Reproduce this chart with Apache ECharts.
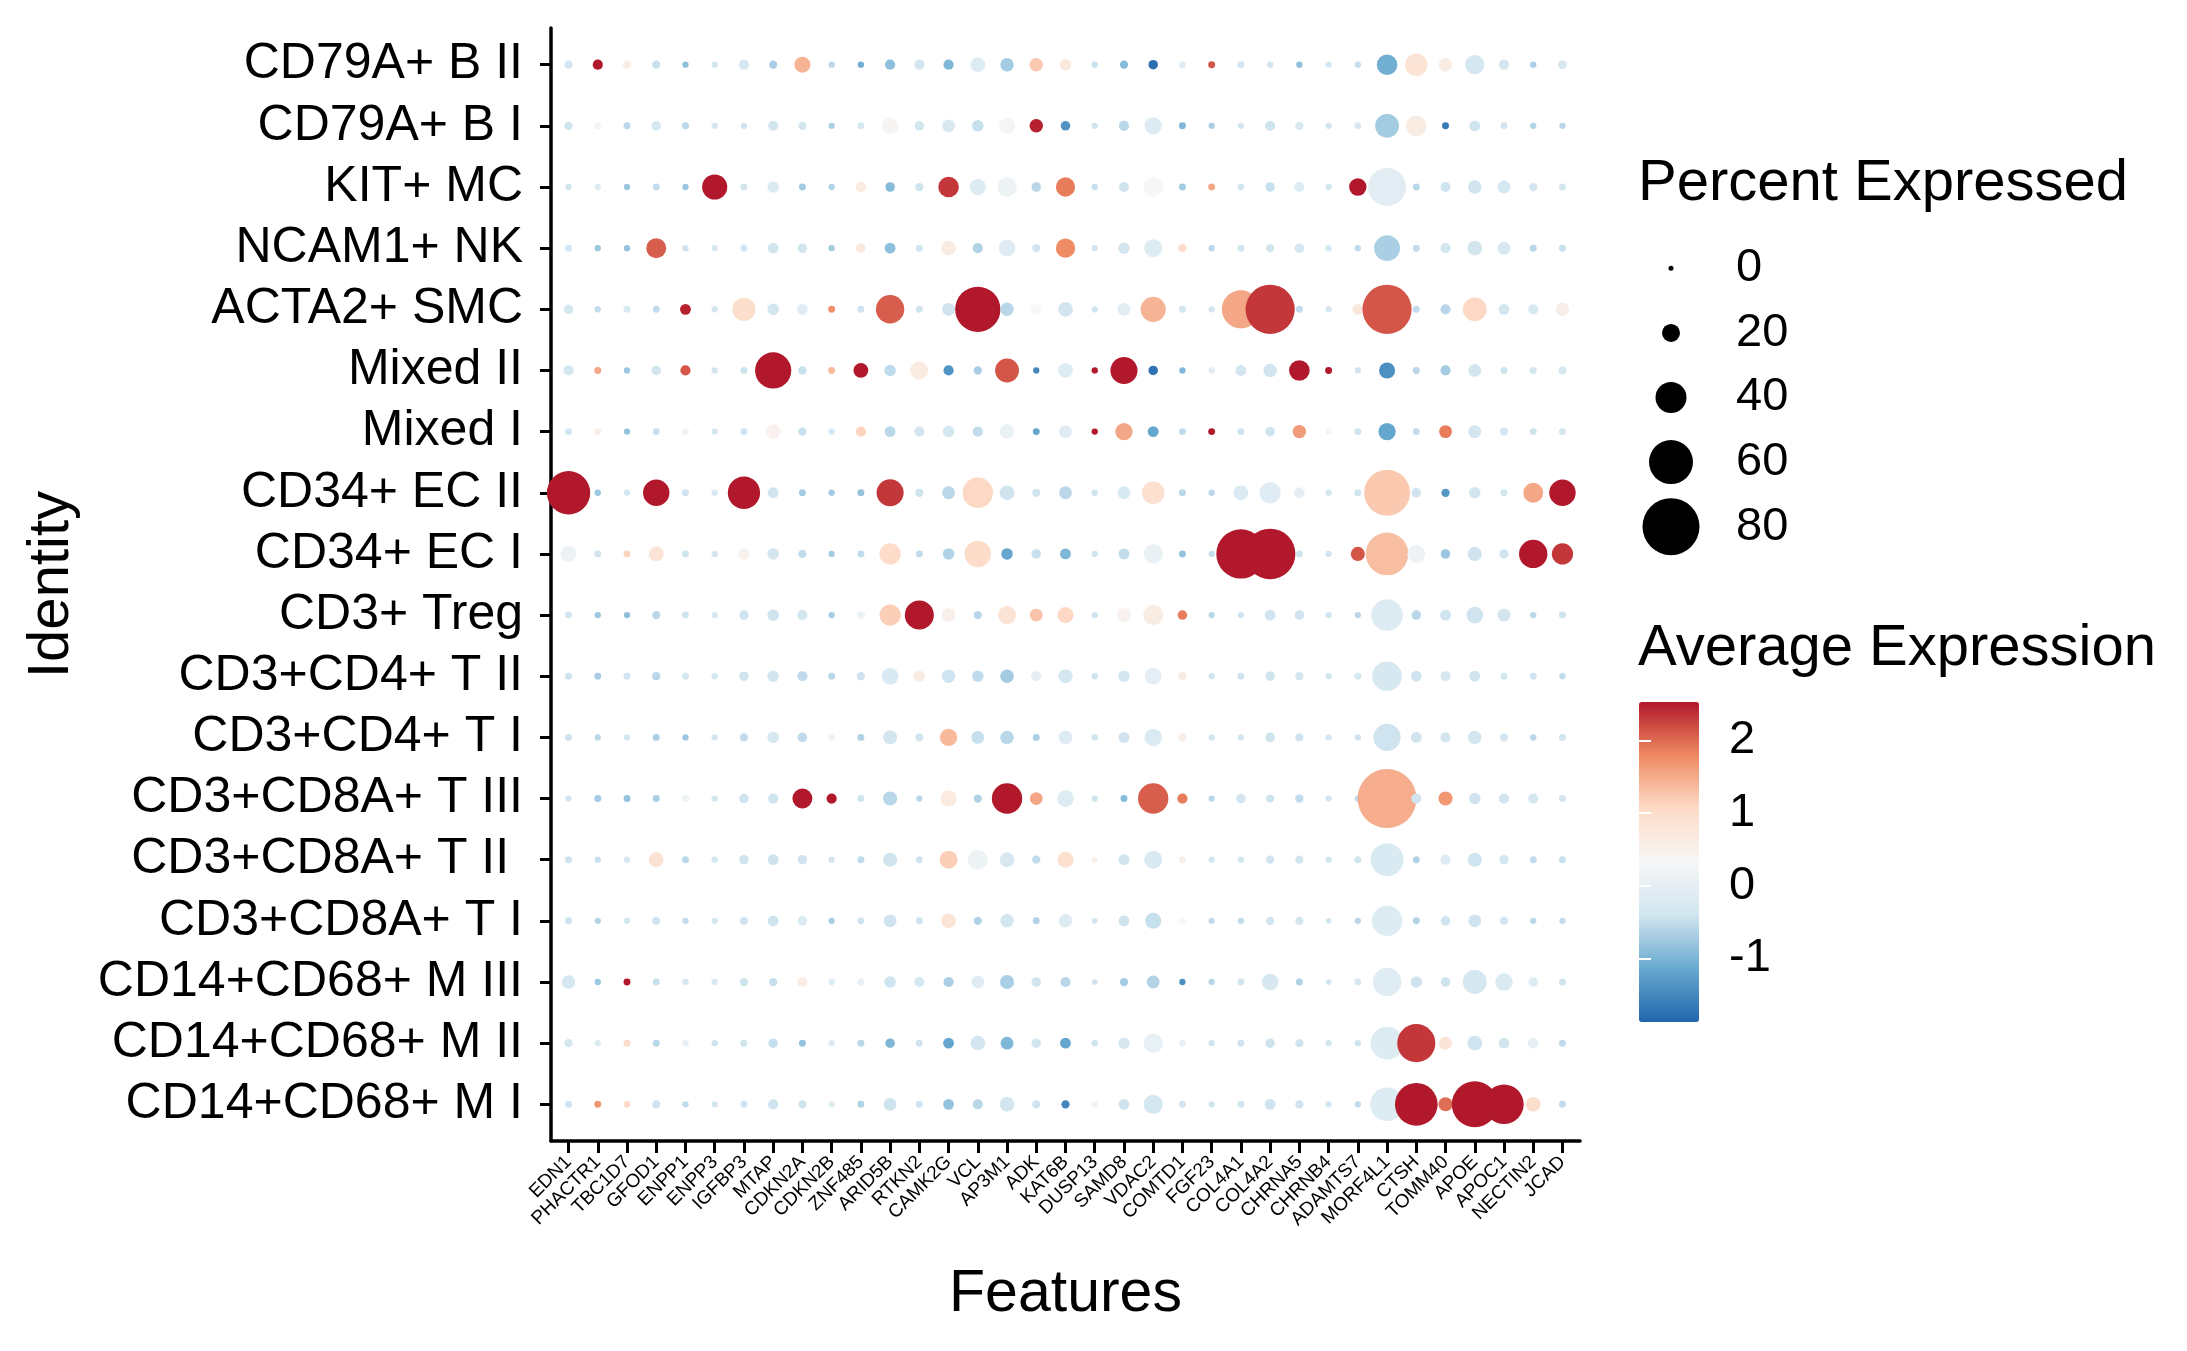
<!DOCTYPE html>
<html><head><meta charset="utf-8">
<script src="https://cdn.jsdelivr.net/npm/echarts@6/dist/echarts.min.js"></script>
<style>html,body{margin:0;padding:0;background:#fff}#c{width:2187px;height:1351px}</style>
</head><body><div id="c"></div>
<script>
const features = ['EDN1','PHACTR1','TBC1D7','GFOD1','ENPP1','ENPP3','IGFBP3','MTAP','CDKN2A','CDKN2B','ZNF485','ARID5B','RTKN2','CAMK2G','VCL','AP3M1','ADK','KAT6B','DUSP13','SAMD8','VDAC2','COMTD1','FGF23','COL4A1','COL4A2','CHRNA5','CHRNB4','ADAMTS7','MORF4L1','CTSH','TOMM40','APOE','APOC1','NECTIN2','JCAD'];
const identities = ['CD79A+ B II','CD79A+ B I','KIT+ MC','NCAM1+ NK','ACTA2+ SMC','Mixed II','Mixed I','CD34+ EC II','CD34+ EC I','CD3+ Treg','CD3+CD4+ T II','CD3+CD4+ T I','CD3+CD8A+ T III','CD3+CD8A+ T II ','CD3+CD8A+ T I','CD14+CD68+ M III','CD14+CD68+ M II','CD14+CD68+ M I'];
// percent expressed, one row per identity (top to bottom), one column per feature
const pct = [
 [5,8,5,5,2,2,8,5,17,2,2,8, 8,8,15,13,13,10,2,5,7,3,3,3, 2,2,2,2,24,27,13,22,8,2,6],
 [5,3,3,7,3,2,2,8,5,2,3,18, 7,12,10,17,13,7,2,8,19,3,2,2, 8,5,2,3,29,24,3,9,3,2,2],
 [2,2,2,3,2,31,3,10,3,2,8,7, 5,24,17,22,7,22,2,8,23,3,3,2, 7,8,2,19,51,3,8,13,12,5,3],
 [3,2,2,23,2,2,3,9,7,2,7,9, 3,15,8,18,5,22,2,10,20,5,2,3, 5,7,2,2,32,3,8,15,12,3,3],
 [7,2,3,3,9,2,28,10,9,3,3,36, 3,12,62,13,9,15,2,12,31,3,2,51, 68,3,2,9,68,3,8,29,9,8,13],
 [8,3,2,7,8,2,3,48,5,3,15,10, 20,8,5,29,2,15,2,34,7,2,2,9, 13,24,3,2,17,3,8,12,3,3,5],
 [3,3,2,3,3,2,3,15,5,2,8,9, 8,10,8,15,3,12,2,19,9,3,3,3, 7,13,2,3,19,3,12,12,5,3,3],
 [59,2,2,33,3,2,42,9,3,2,3,34, 5,12,39,15,5,12,2,12,27,3,2,15, 25,9,2,3,63,7,5,10,3,23,33],
 [17,3,3,15,3,2,10,10,5,2,3,25, 3,10,33,10,7,9,2,9,22,3,2,68, 70,3,2,14,58,20,7,14,7,36,25],
 [3,2,2,5,3,2,7,10,8,2,5,25, 37,14,5,20,12,17,2,14,23,7,2,2, 9,7,2,2,41,7,9,18,12,2,3],
 [3,3,3,5,3,2,7,10,8,3,5,18, 10,13,10,13,8,14,2,10,18,5,2,3, 7,5,2,3,38,9,8,9,3,3,2],
 [3,2,2,3,2,2,5,10,7,2,3,14, 5,19,12,13,3,13,2,9,19,5,2,2, 7,5,2,2,34,9,8,13,5,2,3],
 [2,3,3,3,3,2,7,8,23,8,3,14, 2,17,5,39,12,18,2,3,39,8,2,7, 5,5,2,2,83,8,14,10,8,8,3],
 [3,2,2,15,3,2,7,9,7,2,3,14, 3,20,23,15,5,17,1,9,20,3,2,2, 5,5,2,3,43,3,8,14,7,3,3],
 [3,2,2,5,2,2,5,9,7,2,3,12, 3,15,5,13,3,13,1,9,17,3,2,2, 5,5,1,2,39,3,7,12,5,2,2],
 [13,2,3,3,2,2,5,5,8,2,3,10, 8,8,12,14,7,8,1,5,12,2,2,3, 18,3,1,3,36,10,7,29,19,7,3],
 [5,2,3,3,2,2,3,7,3,2,3,7, 3,9,15,12,7,9,2,10,22,3,2,3, 7,5,2,2,43,51,12,15,9,9,3],
 [3,3,3,5,2,2,3,8,5,2,3,12, 3,9,8,15,5,5,2,9,22,3,2,3, 9,5,2,2,44,58,14,63,53,15,3]
];
// average (scaled) expression, same layout
const avg = [
 [-0.4,2.5,0.6,-0.5,-0.9,-0.4,-0.35,-0.7,1.4,-0.6,-1.1,-0.9, -0.4,-1.0,-0.2,-0.75,1.2,0.7,-0.5,-0.95,-1.8,-0.1,2.1,-0.4, -0.4,-0.9,-0.35,-0.5,-1.1,0.8,0.6,-0.35,-0.4,-0.7,-0.3],
 [-0.45,0.2,-0.6,-0.35,-0.6,-0.4,-0.45,-0.4,-0.4,-0.7,-0.35,0.35, -0.4,-0.3,-0.5,0.35,2.45,-1.4,-0.45,-0.6,-0.2,-1.0,-0.7,-0.4, -0.45,-0.3,-0.4,-0.3,-0.75,0.6,-1.7,-0.45,-0.4,-0.65,-0.6],
 [-0.45,-0.2,-0.8,-0.55,-0.8,2.5,-0.4,-0.25,-0.75,-0.65,0.65,-0.95, -0.45,2.3,-0.2,0.1,-0.6,1.85,-0.5,-0.45,0.3,-0.75,1.5,-0.45, -0.5,-0.2,-0.4,2.5,-0.1,-0.6,-0.45,-0.45,-0.35,-0.4,-0.4],
 [-0.4,-0.8,-0.85,2.05,-0.45,-0.35,-0.4,-0.4,-0.4,-0.75,0.7,-0.9, -0.4,0.6,-0.65,-0.15,-0.4,1.75,-0.4,-0.4,-0.2,1.0,-0.6,-0.4, -0.4,-0.35,-0.35,-0.55,-0.7,-0.55,-0.4,-0.4,-0.35,-0.6,-0.5],
 [-0.35,-0.55,-0.25,-0.55,2.45,-0.4,0.95,-0.4,-0.15,1.7,-0.45,2.05, -0.45,-0.45,2.5,-0.6,0.3,-0.4,-0.45,-0.1,1.4,-0.4,-0.4,1.5, 2.3,-0.55,-0.4,0.7,2.1,-0.55,-0.6,1.05,-0.4,-0.3,0.55],
 [-0.35,1.5,-0.8,-0.4,2.1,-0.4,-0.45,2.5,-0.5,1.35,2.5,-0.55, 0.65,-1.4,-0.7,2.1,-1.55,-0.2,2.5,2.5,-1.75,-1.0,-0.1,-0.4, -0.4,2.5,2.5,-0.45,-1.45,-0.6,-0.75,-0.4,-0.45,-0.4,-0.3],
 [-0.4,0.5,-0.85,-0.5,0.15,-0.4,-0.45,0.45,-0.5,-0.35,1.1,-0.6, -0.4,-0.35,-0.55,0.05,-1.2,-0.15,2.5,1.5,-1.2,-0.55,2.5,-0.45, -0.45,1.6,0.4,-0.45,-1.2,-0.55,1.85,-0.4,-0.4,-0.45,-0.4],
 [2.5,-0.8,-0.35,2.5,-0.45,-0.3,2.5,-0.45,-0.75,-0.75,-0.85,2.3, -0.45,-0.6,1.05,-0.45,-0.45,-0.6,-0.45,-0.25,0.9,-0.6,-0.6,-0.25, -0.15,-0.05,-0.4,-0.45,1.2,-0.45,-1.35,-0.4,-0.4,1.5,2.5],
 [0.1,-0.45,1.1,0.8,-0.45,-0.4,0.45,-0.4,-0.55,-0.75,-0.55,1.0, -0.55,-0.65,1.0,-1.2,-0.5,-1.0,-0.45,-0.55,0.05,-0.85,-0.5,2.5, 2.5,-0.45,-0.4,2.1,1.3,0.1,-0.8,-0.45,-0.4,2.5,2.3],
 [-0.4,-0.8,-0.9,-0.6,-0.45,-0.35,-0.45,-0.45,-0.4,-0.75,0.1,1.15, 2.5,0.5,-0.6,0.8,1.25,1.05,-0.45,0.45,0.6,1.85,-0.6,-0.45, -0.45,-0.45,-0.4,-0.6,-0.2,-0.6,-0.45,-0.45,-0.4,-0.6,-0.45],
 [-0.45,-0.7,-0.45,-0.6,-0.35,-0.4,-0.45,-0.4,-0.55,-0.6,-0.45,-0.25, 0.6,-0.45,-0.55,-0.75,-0.05,-0.35,-0.45,-0.4,-0.05,0.6,-0.4,-0.45, -0.45,-0.4,-0.4,-0.35,-0.3,-0.45,-0.3,-0.45,-0.4,-0.45,-0.55],
 [-0.45,-0.6,-0.4,-0.7,-0.8,-0.4,-0.55,-0.3,-0.55,0.1,-0.65,-0.4, -0.4,1.35,-0.5,-0.6,-0.7,-0.2,-0.45,-0.45,-0.25,0.55,-0.4,-0.4, -0.45,-0.45,-0.35,-0.45,-0.45,-0.45,-0.4,-0.4,-0.4,-0.6,-0.45],
 [-0.4,-0.75,-0.85,-0.7,0.1,-0.4,-0.45,-0.45,2.5,2.5,-0.45,-0.6, -0.6,0.65,-0.65,2.5,1.5,-0.2,-0.45,-0.95,2.05,1.85,-0.6,-0.4, -0.45,-0.55,-0.4,-0.55,1.45,-0.45,1.65,-0.45,-0.4,-0.35,-0.4],
 [-0.45,-0.5,-0.3,0.85,-0.6,-0.4,-0.45,-0.45,-0.45,-0.4,-0.55,-0.45, -0.45,1.15,0.1,-0.3,-0.55,0.9,0.5,-0.45,-0.25,0.5,-0.4,-0.4, -0.45,-0.4,-0.4,-0.45,-0.25,-0.65,-0.2,-0.45,-0.4,-0.55,-0.5],
 [-0.45,-0.65,-0.4,-0.45,-0.55,-0.4,-0.45,-0.45,-0.25,-0.7,-0.45,-0.45, -0.45,0.8,-0.65,-0.4,-0.65,-0.2,-0.4,-0.45,-0.5,0.3,-0.55,-0.55, -0.45,-0.4,-0.4,-0.6,-0.2,-0.65,-0.45,-0.45,-0.4,-0.6,-0.55],
 [-0.35,-0.8,2.5,-0.5,-0.35,-0.3,-0.45,-0.5,0.6,-0.2,0.0,-0.45, -0.35,-0.7,-0.15,-0.7,-0.4,-0.6,-0.45,-0.75,-0.65,-1.45,-0.6,-0.4, -0.3,-0.65,-0.4,-0.3,-0.15,-0.45,-0.45,-0.35,-0.25,-0.2,-0.45],
 [-0.4,-0.2,1.0,-0.6,0.0,-0.45,-0.45,-0.5,-0.85,-0.2,-0.6,-1.0, -0.45,-1.2,-0.4,-1.0,-0.4,-1.2,-0.45,-0.3,0.0,0.05,-0.45,-0.45, -0.45,-0.45,-0.4,-0.45,-0.2,2.3,0.8,-0.45,-0.4,0.0,-0.55],
 [-0.45,1.65,1.0,-0.45,-0.55,-0.4,-0.45,-0.45,-0.45,-0.2,-0.65,-0.45, -0.45,-0.85,-0.6,-0.4,-0.45,-1.55,0.45,-0.45,-0.35,-0.4,-0.45,-0.4, -0.45,-0.45,-0.4,-0.55,-0.2,2.5,1.95,2.5,2.5,0.95,-0.55]
];
const sizeBreaks = [0, 20, 40, 60, 80];
const colorTicks = [-1, 0, 1, 2];
const colorMin = -1.9, colorMax = 2.5;
const palette = ['#2166AC','#67A9CF','#D1E5F0','#F7F7F7','#FDDBC7','#EF8A62','#B2182B'];

const FONT = "'Liberation Sans', Arial, Helvetica, sans-serif";
const sz = p => 5 + 0.65 * p;
const data = [];
identities.forEach((id, r) => features.forEach((f, c) => data.push([c, r, pct[r][c], avg[r][c]])));
const fIdx = features.map((_, i) => i);
const iIdx = identities.map((_, i) => i);

const chart = echarts.init(document.getElementById('c'), null, {renderer: 'canvas'});
chart.setOption({
  animation: false,
  backgroundColor: '#fff',
  textStyle: {fontFamily: FONT, color: '#000'},
  title: [
    {text: 'Percent Expressed', left: 1638, top: 155, padding: 0, textStyle: {fontSize: 58, fontWeight: 'normal', color: '#000', fontFamily: FONT}},
    {text: 'Average Expression', left: 1638, top: 620, padding: 0, textStyle: {fontSize: 58, fontWeight: 'normal', color: '#000', fontFamily: FONT}}
  ],
  grid: [
    {left: 551, top: 28, width: 1029, height: 1113},
    {left: 1640, top: 236, width: 62, height: 323},
    {left: 1639, top: 704, width: 60, height: 320}
  ],
  xAxis: [
    {gridIndex: 0, type: 'value', min: -0.6, max: 34.6,
     axisLine: {show: true, onZero: false, lineStyle: {color: '#000', width: 3.5}},
     axisTick: {show: true, customValues: fIdx, length: 12, lineStyle: {color: '#000', width: 3}},
     axisLabel: {customValues: fIdx, formatter: v => features[Math.round(v)], rotate: 45, fontSize: 19, color: '#000', margin: 18, fontFamily: FONT},
     splitLine: {show: false},
     name: 'Features', nameLocation: 'middle', nameGap: 124,
     nameTextStyle: {fontSize: 59, color: '#000', fontFamily: FONT}},
    {gridIndex: 1, type: 'value', min: 0, max: 1, show: false},
    {gridIndex: 2, type: 'value', min: 0, max: 1, show: false}
  ],
  yAxis: [
    {gridIndex: 0, type: 'value', min: -0.6, max: 17.6, inverse: true,
     axisLine: {show: true, onZero: false, lineStyle: {color: '#000', width: 3.5}},
     axisTick: {show: true, customValues: iIdx, length: 11, lineStyle: {color: '#000', width: 3}},
     axisLabel: {customValues: iIdx, formatter: v => identities[Math.round(v)], fontSize: 50, color: '#000', margin: 28, fontFamily: FONT},
     splitLine: {show: false},
     name: 'Identity', nameLocation: 'middle', nameGap: 470, nameRotate: 90,
     nameTextStyle: {fontSize: 58, color: '#000', fontFamily: FONT}},
    {gridIndex: 1, type: 'category', data: sizeBreaks.map(String), inverse: true, position: 'right',
     axisLine: {show: false}, axisTick: {show: false},
     axisLabel: {fontSize: 47, color: '#000', margin: 34, fontFamily: FONT}},
    {gridIndex: 2, type: 'value', min: colorMin, max: colorMax, position: 'right', z: 10,
     axisLine: {show: false},
     axisTick: {show: true, inside: true, length: 12, customValues: colorTicks, lineStyle: {color: '#fff', width: 2}},
     axisLabel: {customValues: colorTicks, fontSize: 47, color: '#000', margin: 30, fontFamily: FONT},
     splitLine: {show: false}},
    {gridIndex: 2, type: 'value', min: colorMin, max: colorMax, position: 'left', z: 10,
     axisLine: {show: false},
     axisTick: {show: true, inside: true, length: 12, customValues: colorTicks, lineStyle: {color: '#fff', width: 2}},
     axisLabel: {show: false},
     splitLine: {show: false}}
  ],
  visualMap: {
    type: 'continuous', min: colorMin, max: colorMax, dimension: 3, seriesIndex: 0,
    left: 1639, top: 702, itemWidth: 60, itemHeight: 320, calculable: false,
    text: null, padding: 0, hoverLink: false,
    inRange: {color: palette}
  },
  series: [
    {type: 'scatter', xAxisIndex: 0, yAxisIndex: 0, data: data,
     symbolSize: v => sz(v[2]), itemStyle: {opacity: 1}, emphasis: {disabled: true}},
    {type: 'scatter', xAxisIndex: 1, yAxisIndex: 1,
     data: sizeBreaks.map((b, i) => [0.5, i, b]),
     symbolSize: v => sz(v[2]), itemStyle: {color: '#000', opacity: 1}, emphasis: {disabled: true}}
  ]
});
</script></body></html>
